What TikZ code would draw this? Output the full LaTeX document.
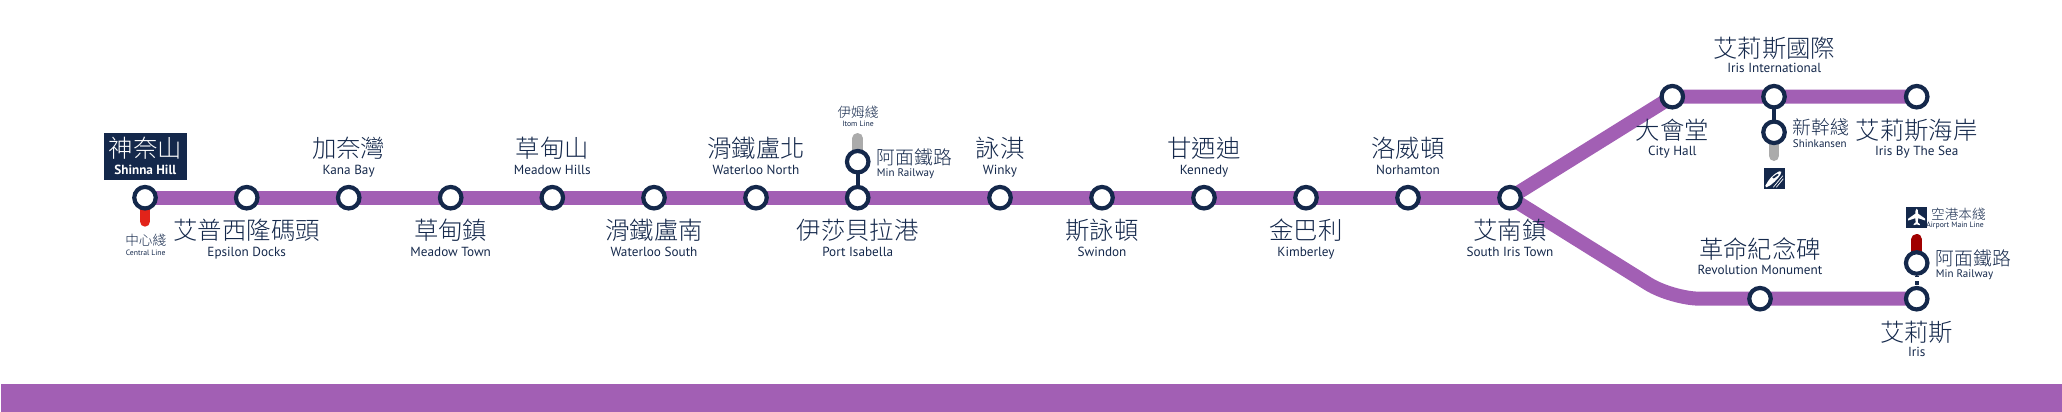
\documentclass[tikz,border=0pt]{standalone}
\usepackage{fontspec}
\setmainfont{PT Sans}
\newfontfamily\zhfont{Noto Sans CJK TC}[UprightFont=* Light]
\usetikzlibrary{backgrounds}
\definecolor{navy}{HTML}{14284B}
\definecolor{lilac}{HTML}{A25FB4}
\definecolor{redline}{HTML}{E2231A}
\definecolor{darkred}{HTML}{A00000}
\definecolor{greyline}{HTML}{ABABAB}
\tikzset{
  x=1pt,y=-1pt,
  station/.style={circle,draw=navy,fill=white,line width=4.2pt,minimum size=21.5pt,inner sep=0pt},
  main/.style={draw=lilac,line width=14pt},
  stub/.style={line width=10.6pt,line cap=round},
  link/.style={draw=navy,line width=4pt},
  zh/.style={text=navy,inner sep=0pt,anchor=base,yshift=-8.6pt,font=\zhfont\fontsize{24.4}{25}\selectfont},
  en/.style={text=navy,inner sep=0pt,anchor=base,yshift=-3.6pt,font=\fontsize{13.2}{14}\selectfont},
  zhm/.style={text=navy,inner sep=0pt,anchor=base west,yshift=-7.1pt,font=\zhfont\fontsize{18.8}{19}\selectfont},
  enm/.style={text=navy,inner sep=0pt,anchor=base west,yshift=-3.6pt,font=\fontsize{11}{12}\selectfont},
  zhs/.style={text=navy,inner sep=0pt,anchor=base,yshift=-5.2pt,font=\zhfont\fontsize{13.6}{14}\selectfont},
  ens/.style={text=navy,inner sep=0pt,anchor=base,yshift=-2.6pt,font=\fontsize{7.7}{8}\selectfont},
  iconbox/.style={fill=navy,draw=none,inner sep=0pt,minimum size=21pt},
}
\begin{document}
\begin{tikzpicture}
\useasboundingbox (0,0) rectangle (2062,412);
\node[fill=lilac,draw=none,inner sep=0pt,minimum width=2061pt,minimum height=28pt,anchor=north west] (bar) at (1,384) {};
% stations
\node[station] (s1) at (145,197.7) {};
\node[station] (s2) at (246.7,197.7) {};
\node[station] (s3) at (348.7,197.7) {};
\node[station] (s4) at (450.7,197.7) {};
\node[station] (s5) at (552.3,197.7) {};
\node[station] (s6) at (654,197.7) {};
\node[station] (s7) at (756,197.7) {};
\node[station] (s8) at (857.7,197.7) {};
\node[station] (s9) at (1000,197.7) {};
\node[station] (s10) at (1102,197.7) {};
\node[station] (s11) at (1204,197.7) {};
\node[station] (s12) at (1306,197.7) {};
\node[station] (s13) at (1408,197.7) {};
\node[station] (s14) at (1510,197.7) {};
\node[station] (city) at (1672.3,96.7) {};
\node[station] (intl) at (1774,96.7) {};
\node[station] (sea) at (1916.7,96.7) {};
\node[station] (rev) at (1760,298.7) {};
\node[station] (iris) at (1916.7,298.7) {};
\node[station] (minA) at (857.7,161.7) {};
\node[station] (minB) at (1916.7,263) {};
\node[station] (shin) at (1774,132.3) {};
\coordinate (bend) at (1672,298.7);
\coordinate (redEnd) at (145,221.4);
\coordinate (itomEnd) at (857.7,138.3);
\coordinate (shinEnd) at (1774,155.7);
\coordinate (airEnd) at (1916.7,239.3);
\begin{scope}[on background layer]
\draw[main] (s1.center) -- (s14.center);
\draw[main] (s14.center) -- (city.center) -- (sea.center);
\draw[main,rounded corners=28pt] (s14.center) -- (bend) -- (iris.center);
\draw[stub,redline] (s1.center) -- (redEnd);
\draw[stub,greyline] (minA.center) -- (itomEnd);
\draw[stub,greyline] (shin.center) -- (shinEnd);
\draw[stub,darkred] (minB.center) -- (airEnd);
\draw[link] (s8.center) -- (minA.center);
\draw[link] (intl.center) -- (shin.center);
\draw[link,dash pattern=on 1pt off 4.5pt on 4pt off 3pt] (minB.south) -- (iris.north);
\end{scope}
% first station box
\node[fill=navy,inner sep=0pt,minimum width=82.7pt,minimum height=47pt] (box) at (145.3,156.5) {};
\node[zh,text=white] (n1z) at (145.3,149) {神奈山};
\node[en,text=white,font=\bfseries\fontsize{13.2}{14}\selectfont] (n1e) at (145.3,170.7) {Shinna Hill};
\node[zhs] (c1z) at (145.7,240) {中心綫};
\node[ens] (c1e) at (145.7,252.7) {Central Line};
% labels above
\node[zh] (n3z) at (348.7,149) {加奈灣};
\node[en] (n3e) at (348.7,170.7) {Kana Bay};
\node[zh] (n5z) at (552.3,149) {草甸山};
\node[en] (n5e) at (552.3,170.7) {Meadow Hills};
\node[zh] (n7z) at (756,149) {滑鐵盧北};
\node[en] (n7e) at (756,170.7) {Waterloo North};
\node[zh] (n9z) at (1000,149) {詠淇};
\node[en] (n9e) at (1000,170.7) {Winky};
\node[zh] (n11z) at (1204,149) {甘迺迪};
\node[en] (n11e) at (1204,170.7) {Kennedy};
\node[zh] (n13z) at (1408,149) {洛威頓};
\node[en] (n13e) at (1408,170.7) {Norhamton};
% labels below
\node[zh] (n2z) at (246.7,230.7) {艾普西隆碼頭};
\node[en] (n2e) at (246.7,252.7) {Epsilon Docks};
\node[zh] (n4z) at (450.7,230.7) {草甸鎮};
\node[en] (n4e) at (450.7,252.7) {Meadow Town};
\node[zh] (n6z) at (654,230.7) {滑鐵盧南};
\node[en] (n6e) at (654,252.7) {Waterloo South};
\node[zh] (n8z) at (857.7,230.7) {伊莎貝拉港};
\node[en] (n8e) at (857.7,252.7) {Port Isabella};
\node[zh] (n10z) at (1102,230.7) {斯詠頓};
\node[en] (n10e) at (1102,252.7) {Swindon};
\node[zh] (n12z) at (1306,230.7) {金巴利};
\node[en] (n12e) at (1306,252.7) {Kimberley};
\node[zh] (n14z) at (1510,230.7) {艾南鎮};
\node[en] (n14e) at (1510,252.7) {South Iris Town};
% Itom / Min at Port Isabella
\node[zhs] (itz) at (858,112.7) {伊姆綫};
\node[ens] (ite) at (858,124.3) {Itom Line};
\node[zhm] (m1z) at (876.7,157) {阿面鐵路};
\node[enm] (m1e) at (876.7,173) {Min Railway};
% upper branch
\node[zh] (intz) at (1774.3,49) {艾莉斯國際};
\node[en] (inte) at (1774.3,69.3) {Iris International};
\node[zh] (cityz) at (1672.3,130.7) {大會堂};
\node[en] (citye) at (1672.3,151.7) {City Hall};
\node[zh] (seaz) at (1916.7,130.7) {艾莉斯海岸};
\node[en] (seae) at (1916.7,151.7) {Iris By The Sea};
\node[zhm] (shz) at (1792.7,127.3) {新幹綫};
\node[enm] (she) at (1792.7,144.3) {Shinkansen};
\node[iconbox] (trainicon) at (1774.3,178.8) {};
\begin{scope}[shift={(trainicon.center)}]
  \fill[white] (-9,7) .. controls (-6,1) and (-1,-5) .. (5,-7.5) -- (7,-7) .. controls (7,-4) and (2,2) .. (-4,6.5) -- (-8,8.5) -- cycle;
  \fill[navy] (-2,-1.5) -- (3,-5) -- (4.5,-4) -- (-0.5,-0.3) -- cycle;
  \draw[white,line width=.7pt] (-1,8.5) -- (8.5,-3) (2,8.5) -- (9,0);
\end{scope}
% lower branch
\node[zh] (revz) at (1760,250) {革命紀念碑};
\node[en] (reve) at (1760,271.3) {Revolution Monument};
\node[zh] (irz) at (1916.7,332.7) {艾莉斯};
\node[en] (ire) at (1916.7,353.3) {Iris};
\node[zhm] (m2z) at (1935.7,258.3) {阿面鐵路};
\node[enm] (m2e) at (1935.7,274) {Min Railway};
\node[zhs,anchor=base west] (airz) at (1931,214) {空港本綫};
\node[ens,anchor=base east] (aire) at (1984,225.3) {Airport Main Line};
\node[iconbox] (planeicon) at (1916.7,217.2) {};
\begin{scope}[shift={(planeicon.center)}]
  \fill[white] (0,-8.5) .. controls (1.2,-8.5) and (1.4,-6) .. (1.4,-3.5) -- (8.5,1.5) -- (8.5,3.3) -- (1.4,1) -- (1.1,5.2) -- (3.2,7) -- (3.2,8) -- (0,7.2) -- (-3.2,8) -- (-3.2,7) -- (-1.1,5.2) -- (-1.4,1) -- (-8.5,3.3) -- (-8.5,1.5) -- (-1.4,-3.5) .. controls (-1.4,-6) and (-1.2,-8.5) .. (0,-8.5) -- cycle;
\end{scope}
\end{tikzpicture}
\end{document}
